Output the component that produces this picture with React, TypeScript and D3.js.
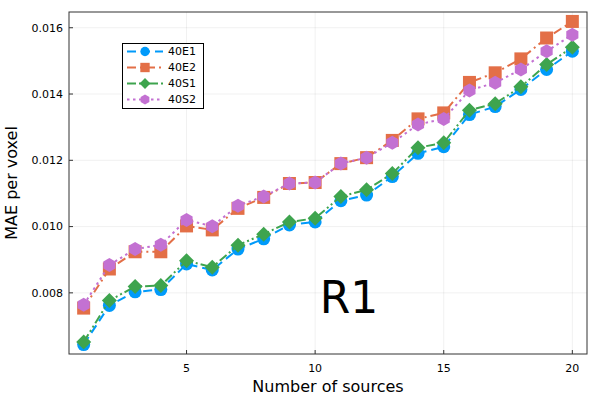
import React from "react"
import * as d3 from "d3"

const sources = d3.range(1, 21)
const e1 = [0.00644, 0.00762, 0.00803, 0.0081, 0.00887, 0.00869, 0.00932, 0.00963, 0.01005, 0.01014, 0.01078, 0.01095, 0.01151, 0.01221, 0.01241, 0.01338, 0.01362, 0.01414, 0.01474, 0.01529]
const e2 = [0.00754, 0.00872, 0.00924, 0.00924, 0.01002, 0.0099, 0.01055, 0.01088, 0.0113, 0.01133, 0.0119, 0.01208, 0.0126, 0.01325, 0.01343, 0.01435, 0.01464, 0.01506, 0.01569, 0.01619]
const s1 = [0.00652, 0.00777, 0.00819, 0.00822, 0.00897, 0.00877, 0.00944, 0.00977, 0.01014, 0.01025, 0.01091, 0.01111, 0.0116, 0.01238, 0.01253, 0.01351, 0.01371, 0.01422, 0.01489, 0.01541]
const s2 = [0.00764, 0.00884, 0.00932, 0.00945, 0.0102, 0.01001, 0.01063, 0.01091, 0.0113, 0.01133, 0.0119, 0.01208, 0.01253, 0.01308, 0.01325, 0.01411, 0.01434, 0.01474, 0.01529, 0.01579]
const xTicks = [5, 10, 15, 20]
const yTicks = [0.008, 0.01, 0.012, 0.014, 0.016]

const series = [
  { name: "40E1", values: e1, color: "#009AFA", dash: "9,5", marker: "circle" },
  { name: "40E2", values: e2, color: "#E36F47", dash: "9,4,2,4", marker: "square" },
  { name: "40S1", values: s1, color: "#3EA44E", dash: "9,3,2,3,2,3", marker: "diamond" },
  { name: "40S2", values: s2, color: "#C371D2", dash: "2.5,3.5", marker: "hexagon" },
]

const font = "DejaVu Sans, sans-serif"

const Marker = (props: { kind: string; x: number; y: number; color: string; k?: number }) => {
  const { kind, x, y, color } = props
  const k = props.k ?? 1
  if (kind === "circle") return <circle cx={x} cy={y} r={6.5 * k} fill={color} />
  if (kind === "square") {
    const h = 6.5 * k
    return <rect x={x - h} y={y - h} width={2 * h} height={2 * h} fill={color} />
  }
  if (kind === "diamond") {
    const r = 7.5 * k
    return <path d={`M${x},${y - r}L${x + r},${y}L${x},${y + r}L${x - r},${y}Z`} fill={color} />
  }
  const r = 7 * k
  const pts = d3.range(6).map((i) => {
    const a = (Math.PI / 3) * i - Math.PI / 2
    return `${x + r * Math.cos(a)},${y + r * Math.sin(a)}`
  })
  return <polygon points={pts.join(" ")} fill={color} />
}

export default function App() {
  const width = 600
  const height = 400
  const left = 69
  const right = 587
  const top = 12
  const bottom = 354

  const x = d3.scaleLinear().domain([0.43, 20.57]).range([left, right])
  const y = d3.scaleLinear().domain([0.006155, 0.016475]).range([bottom, top])

  const line = d3
    .line<number>()
    .x((_, i) => x(sources[i]))
    .y((d) => y(d))

  return (
    <svg width={width} height={height} style={{ position: "absolute", left: 0, top: 0 }} fontFamily={font}>
      <rect width={width} height={height} fill="white" />
      {xTicks.map((t) => (
        <line key={"gx" + t} x1={x(t)} x2={x(t)} y1={top} y2={bottom} stroke="#000" strokeOpacity={0.1} strokeWidth={0.6} />
      ))}
      {yTicks.map((t) => (
        <line key={"gy" + t} x1={left} x2={right} y1={y(t)} y2={y(t)} stroke="#000" strokeOpacity={0.1} strokeWidth={0.6} />
      ))}
      {series.map((s) => (
        <g key={s.name}>
          <path d={line(s.values) || ""} fill="none" stroke={s.color} strokeWidth={2} strokeDasharray={s.dash} />
          {s.values.map((v, i) => (
            <Marker key={i} kind={s.marker} x={x(sources[i])} y={y(v)} color={s.color} />
          ))}
        </g>
      ))}
      <rect x={left} y={top} width={right - left} height={bottom - top} fill="none" stroke="#333" strokeWidth={1} />
      {xTicks.map((t) => (
        <g key={"tx" + t}>
          <line x1={x(t)} x2={x(t)} y1={bottom} y2={bottom - 4} stroke="#333" />
          <text x={x(t)} y={bottom + 18} textAnchor="middle" fontSize={11} fill="#000">
            {t}
          </text>
        </g>
      ))}
      {yTicks.map((t) => (
        <g key={"ty" + t}>
          <line x1={left} x2={left + 4} y1={y(t)} y2={y(t)} stroke="#333" />
          <text x={left - 6} y={y(t)} dy="0.35em" textAnchor="end" fontSize={11} fill="#000">
            {d3.format(".3f")(t)}
          </text>
        </g>
      ))}
      <text x={(left + right) / 2} y={392} textAnchor="middle" fontSize={16} fill="#000">
        Number of sources
      </text>
      <text transform={`translate(17,${(top + bottom) / 2}) rotate(-90)`} textAnchor="middle" fontSize={16} fill="#000">
        MAE per voxel
      </text>
      <text x={349} y={313} textAnchor="middle" fontSize={44} fill="#000">
        R1
      </text>
      <g>
        <rect x={122.5} y={43.5} width={81} height={65} fill="white" stroke="#000" strokeWidth={1} />
        {series.map((s, i) => {
          const ly = 51.5 + i * 16
          return (
            <g key={"lg" + s.name}>
              <line x1={127} x2={163} y1={ly} y2={ly} stroke={s.color} strokeWidth={2} strokeDasharray={s.dash} />
              <Marker kind={s.marker} x={145} y={ly} color={s.color} k={0.72} />
              <text x={168} y={ly} dy="0.36em" fontSize={11} fill="#000">
                {s.name}
              </text>
            </g>
          )
        })}
      </g>
    </svg>
  )
}
